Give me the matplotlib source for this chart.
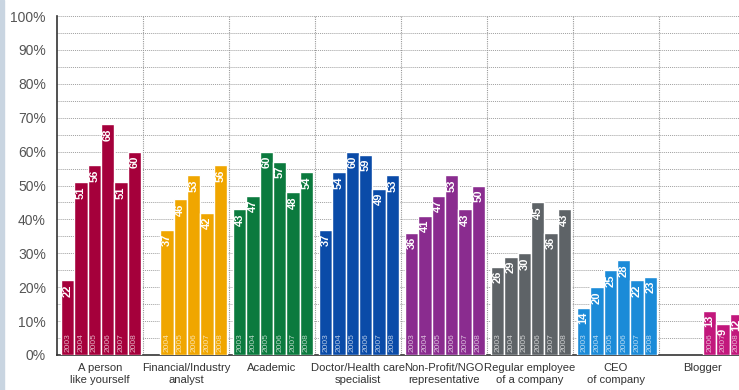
import numpy as np
import matplotlib.pyplot as plt
from matplotlib.patches import Rectangle

plt.rcParams["font.family"] = ["Liberation Sans Narrow", "Liberation Sans", "DejaVu Sans"]

years = ["2003", "2004", "2005", "2006", "2007", "2008"]
groups = ["A person\nlike yourself", "Financial/Industry\nanalyst", "Academic",
          "Doctor/Health care\nspecialist", "Non-Profit/NGO\nrepresentative",
          "Regular employee\nof a company", "CEO\nof company", "Blogger"]
# None = no survey that year
values = [
    [22, 51, 56, 68, 51, 60],
    [None, 37, 46, 53, 42, 56],
    [43, 47, 60, 57, 48, 54],
    [37, 54, 60, 59, 49, 53],
    [36, 41, 47, 53, 43, 50],
    [26, 29, 30, 45, 36, 43],
    [14, 20, 25, 28, 22, 23],
    [None, None, None, 13, 9, 12],
]
colors = ["#a5003b", "#f0a600", "#0b7a3e", "#0a4ba8", "#8a2c8f",
          "#5e6367", "#1b8bd8", "#c2177c"]

fig = plt.figure(figsize=(7.39, 3.9), dpi=100)
fig.patches.append(Rectangle((0, 0), 0.006, 1, transform=fig.transFigure,
                             color="#c9d5e1", zorder=0))
ax = fig.add_axes([57 / 739, 35 / 390, 682 / 739, 339 / 390])

slot = 0.155
offset = 0.047
for g, (vals, col) in enumerate(zip(values, colors)):
    for j, v in enumerate(vals):
        if v is None:
            continue
        x = g + offset + j * slot
        ax.bar(x, v, width=slot, align="edge", color=col, edgecolor="white",
               linewidth=1.0, zorder=3)
        ax.text(x + slot / 2, v - 1.2, str(v), rotation=90, ha="center", va="top",
                color="white", fontsize=8, fontweight="bold", zorder=4)
        ax.text(x + slot / 2, 0.8, years[j], rotation=90, ha="center", va="bottom",
                color="white", alpha=0.7, fontsize=6, zorder=4)
    ax.text(g + 0.5, -2.3, groups[g], ha="center", va="top", fontsize=8.1,
            color="#333333", linespacing=1.3)

ax.set_xlim(0, 682 / 86)
ax.set_ylim(0, 100)
ax.set_yticks(range(0, 101, 10))
ax.set_yticklabels([f"{t}%" for t in range(0, 101, 10)], fontsize=10, color="#555555")
ax.tick_params(axis="y", length=0, pad=8)
ax.set_xticks([])
for y in range(5, 101, 5):
    ax.axhline(y, color="#a0a0a0", linestyle=(0, (1, 1)), linewidth=0.7, zorder=1)
for g in range(1, 8):
    ax.axvline(g, color="#9a9a9a", linestyle=(0, (1, 1)), linewidth=0.8, zorder=1)
for s in ["top", "right"]:
    ax.spines[s].set_visible(False)
ax.spines["left"].set_color("#333333")
ax.spines["bottom"].set_color("#333333")
ax.spines["left"].set_linewidth(1.2)
ax.spines["bottom"].set_linewidth(1.2)

fig.savefig("out.png", dpi=100)
